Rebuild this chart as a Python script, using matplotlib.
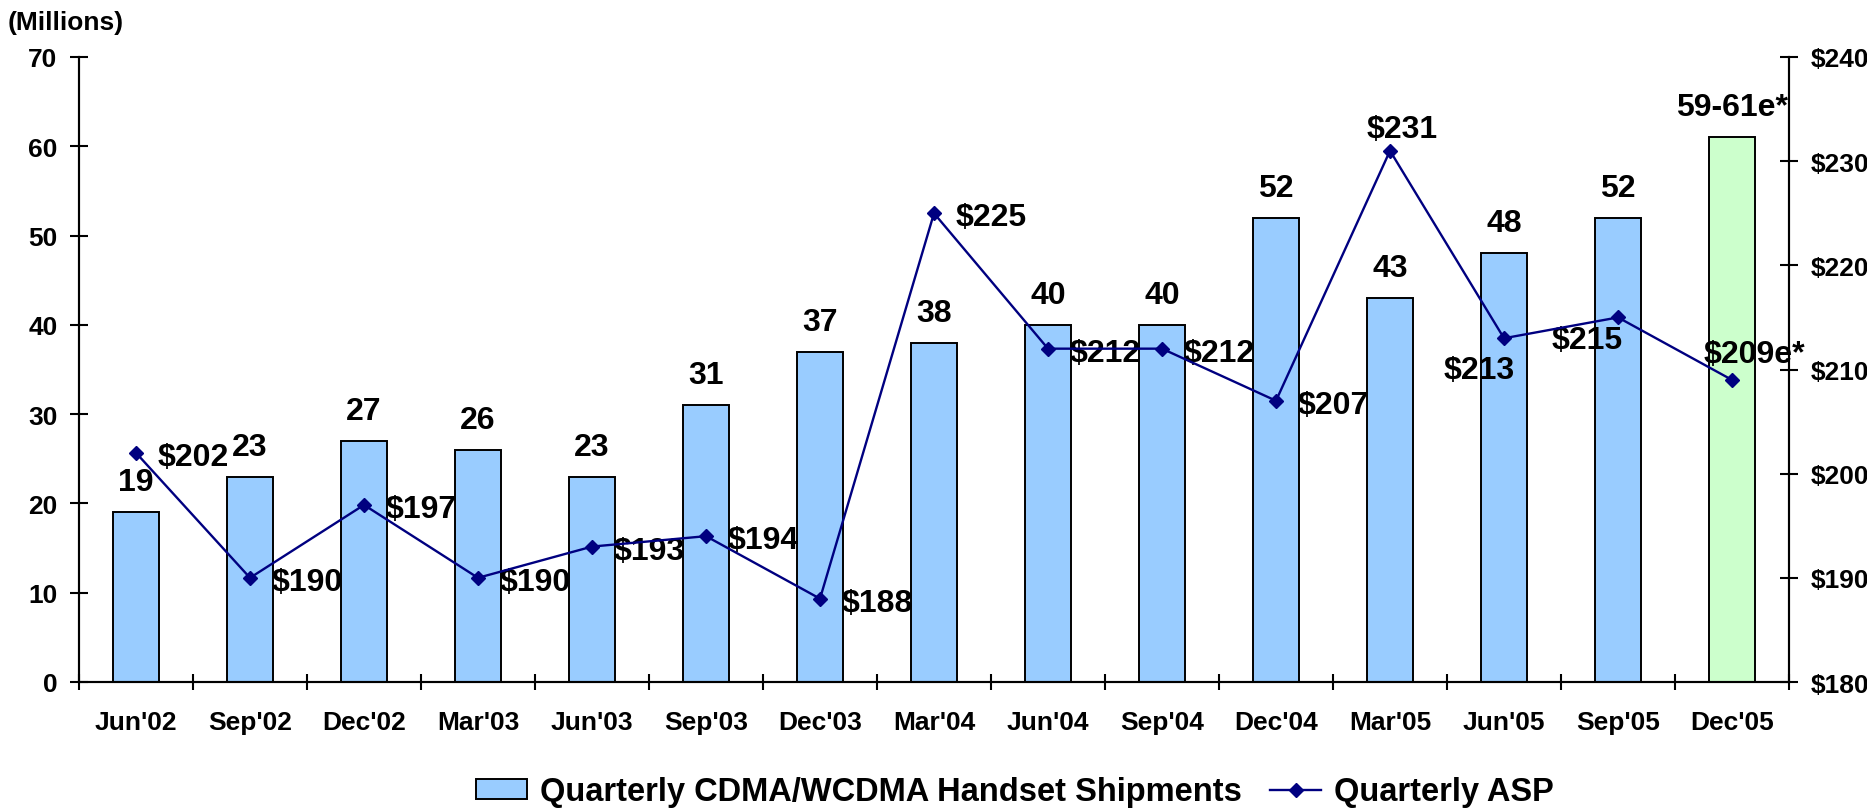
import matplotlib
matplotlib.use('Agg')
import matplotlib.pyplot as plt
import numpy as np

# %% data
quarters = ["Jun'02", "Sep'02", "Dec'02", "Mar'03", "Jun'03", "Sep'03", "Dec'03",
            "Mar'04", "Jun'04", "Sep'04", "Dec'04", "Mar'05", "Jun'05", "Sep'05",
            "Dec'05"]
shipments = [19, 23, 27, 26, 23, 31, 37, 38, 40, 40, 52, 43, 48, 52, 61]
shipment_labels = ['19', '23', '27', '26', '23', '31', '37', '38', '40', '40',
                   '52', '43', '48', '52', '59-61e*']
asp = [202, 190, 197, 190, 193, 194, 188, 225, 212, 212, 207, 231, 213, 215, 209]
asp_labels = ['$202', '$190', '$197', '$190', '$193', '$194', '$188', '$225',
              '$212', '$212', '$207', '$231', '$213', '$215', '$209e*']

# %% placement of the asp labels (pixel offsets, ha) - default is right of point
asp_place = {11: (12, 14, 'center'), 12: (-25, -40, 'center'),
             13: (-31, -31, 'center'), 14: (22, 18, 'center')}

plt.rcParams['font.family'] = ['Liberation Sans', 'DejaVu Sans']
plt.rcParams['font.weight'] = 'bold'

fig = plt.figure(figsize=(18.67, 8.12), dpi=100)
ax = fig.add_axes([79 / 1867, 1 - 683 / 812, (1789 - 79) / 1867, (683 - 58) / 812])

x = np.arange(len(quarters))
colors = ['#99CCFF'] * (len(quarters) - 1) + ['#CCFFCC']
bars = ax.bar(x, shipments, width=0.40, color=colors, edgecolor='black',
              linewidth=1.4, zorder=2,
              label='Quarterly CDMA/WCDMA Handset Shipments')

for i in range(len(x)):
    ax.annotate(shipment_labels[i], (x[i], shipments[i]), xytext=(0, 22),
                textcoords='offset pixels', ha='center', va='baseline',
                fontsize=23, fontweight='bold', zorder=5)

ax.set_xlim(-0.5, len(quarters) - 0.5)
ax.set_ylim(0, 70)
ax.set_yticks(np.arange(0, 71, 10))
ax.set_xticks(np.arange(-0.5, len(quarters), 1))
ax.set_xticklabels([])
ax.set_xticks(x, minor=True)
ax.set_xticklabels(quarters, minor=True)
ax.tick_params(axis='x', which='major', direction='inout', length=12, width=1.5)
ax.tick_params(axis='x', which='minor', length=0, pad=20, labelsize=19)
ax.tick_params(axis='y', direction='inout', length=13, width=1.5, pad=9,
               labelsize=19)
for s in ['left', 'bottom', 'right']:
    ax.spines[s].set_linewidth(1.5)
ax.spines['top'].set_visible(False)

# %% second axis for the ASP
ax2 = ax.twinx()
line, = ax2.plot(x, asp, color='#000080', linewidth=1.7, marker='D',
                 markersize=7.5, label='Quarterly ASP', zorder=4)
ax2.set_ylim(180, 240)
ax2.set_yticks(np.arange(180, 241, 10))
ax2.set_yticklabels(['$' + str(v) for v in range(180, 241, 10)])
ax2.tick_params(axis='y', direction='inout', length=13, width=1.5, pad=9,
                labelsize=19)
for s in ['left', 'bottom', 'right']:
    ax2.spines[s].set_linewidth(1.5)
ax2.spines['top'].set_visible(False)

for i in range(len(x)):
    dx, dy, ha = asp_place.get(i, (22, -12, 'left'))
    ax2.annotate(asp_labels[i], (x[i], asp[i]), xytext=(dx, dy),
                 textcoords='offset pixels', ha=ha, va='baseline',
                 fontsize=23, fontweight='bold')

fig.text(8 / 1867, 1 - 23 / 812, '(Millions)', fontsize=19, fontweight='bold',
         ha='left', va='center')

fig.legend(handles=[bars, line], loc='center', ncol=2,
           bbox_to_anchor=(1015 / 1867, 1 - 793 / 812), frameon=False,
           fontsize=23.5, handlelength=1.56, handleheight=0.58,
           handletextpad=0.4, columnspacing=0.86, borderpad=0)

fig.savefig('out.png', dpi=100)
